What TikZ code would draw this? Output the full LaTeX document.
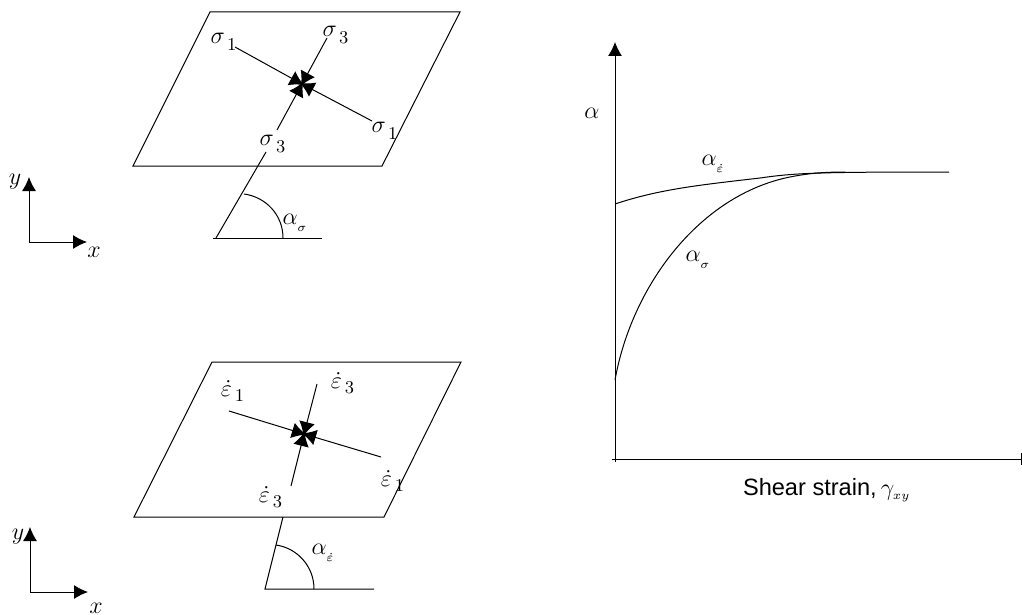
\documentclass[tikz,border=0pt]{standalone}
\usepackage{amsmath,amssymb}
\usepackage{fontspec}
\usepackage{tikz}
\usetikzlibrary{arrows.meta,positioning,calc}
\newfontfamily\labelsans{Liberation Sans}
\newcommand{\dropsub}[2]{#1_{\,\lower#2\hbox{$\scriptstyle 1$}}}
\newcommand{\dropsubc}[2]{#1_{\,\lower#2\hbox{$\scriptstyle 3$}}}
\newcommand{\dropalpha}[1]{\alpha_{\lower1.5pt\hbox{$\scriptscriptstyle #1$}}}

\begin{document}
\begin{tikzpicture}[x=0.5pt,y=-0.5pt,
  every node/.style={inner sep=0pt,outer sep=0pt,font=\fontsize{12.5}{14}\selectfont},
  thinline/.style={draw,line width=0.5pt},
  headline/.style={thinline,-{Latex[length=7pt,width=7pt]}},
  crossline/.style={thinline,shorten >=-1pt,-{Latex[length=7pt,width=8pt]}}]
  \useasboundingbox (0,0) rectangle (1022,615);

  % upper plate
  \draw[thinline] (210,12) coordinate (pa1) -- (460,12) coordinate (pa2) -- (382,166) coordinate (pa3) -- (133,166) coordinate (pa4) -- cycle;
  \coordinate (sc) at (302,84);
  \foreach \name/\pos in {sa/{235,47},sb/{372,121},sd/{327,38},se/{277,130}} {
    \coordinate (\name) at (\pos);
    \draw[crossline] (\name) -- (sc);
  }
  \node (siga) at (224,42) {$\dropsub{\sigma}{2pt}$};
  \node (sigb) at (385,131) {$\dropsub{\sigma}{2pt}$};
  \node (sigd) at (336,35) {$\dropsubc{\sigma}{2pt}$};
  \node (sige) at (273,144) {$\dropsubc{\sigma}{2pt}$};
  \coordinate (sf) at (266,152);
  \coordinate (sg) at (216,238);
  \coordinate (sh) at (322,238);
  \draw[thinline] (sf) -- (sg);
  \draw[thinline] (213,238) -- (sh);
  \draw[thinline] (244,194) .. controls (266,197) and (283,215) .. (283,238);
  \node (alphas) at (295,223) {$\dropalpha{\sigma}$};

  % lower plate
  \draw[thinline] (212,362) coordinate (pb1) -- (461,362) coordinate (pb2) -- (384,517) coordinate (pb3) -- (134,517) coordinate (pb4) -- cycle;
  \coordinate (ec) at (304,434);
  \foreach \name/\pos in {ea/{229,411},eb/{381,457},ed/{317,384},ee/{291,486}} {
    \coordinate (\name) at (\pos);
    \draw[crossline] (\name) -- (ec);
  }
  \node (epsa) at (233,391) {$\dropsub{\dot{\varepsilon}}{1pt}$};
  \node (epsb) at (393,481) {$\dropsub{\dot{\varepsilon}}{1pt}$};
  \node (epsd) at (343,383) {$\dropsubc{\dot{\varepsilon}}{1pt}$};
  \node (epse) at (271,497) {$\dropsubc{\dot{\varepsilon}}{1pt}$};
  \coordinate (ef) at (283,517);
  \coordinate (eg) at (265,589);
  \coordinate (eh) at (374,589);
  \draw[thinline] (ef) -- (eg) -- (eh);
  \draw[thinline] (276,545) .. controls (297,548) and (314,566) .. (314,589);
  \node (alphae) at (323,553) {$\dropalpha{\dot{\varepsilon}}$};

  % axes on the left
  \foreach \name/\ox/\oy/\ty/\tx in {u/29/242/177/87,l/30/592/527/88} {
    \coordinate (\name o) at (\ox,\oy);
    \coordinate (\name y) at (\ox,\ty);
    \coordinate (\name x) at (\tx,\oy);
    \draw[headline] (\name o) -- (\name y);
    \draw[headline] (\name o) -- (\name x);
  }
  \node (ylaba) at (15,182) {$y$};
  \node (xlaba) at (94,252) {$x$};
  \node (ylabb) at (18,537) {$y$};
  \node (xlabb) at (96,608) {$x$};

  % graph
  \coordinate (go) at (615,459);
  \coordinate (gy) at (615,42);
  \coordinate (gx) at (1022,459);
  \draw[headline] (615,462) -- (gy);
  \draw[thinline,-{Bar[width=6pt]}] (612,459) -- (gx);
  \draw[thinline] (615,204) .. controls (660,189) and (700,185) .. (760,178) .. controls (795,173) and (815,172) .. (949,172);
  \draw[thinline] (615,380) .. controls (632,285) and (700,195) .. (790,177) .. controls (805,174) and (820,172) .. (845,172);
  \node (galpha) at (592,113) {$\alpha$};
  \node (galphae) at (713,164) {$\dropalpha{\dot{\varepsilon}}$};
  \node (galphas) at (698,260) {$\dropalpha{\sigma}$};
  \node[anchor=west] (gstrain) at (743,490) {{\labelsans\fontsize{11.8}{14}\selectfont Shear strain,}$\,\gamma_{\scriptscriptstyle xy}$};
\end{tikzpicture}
\end{document}
